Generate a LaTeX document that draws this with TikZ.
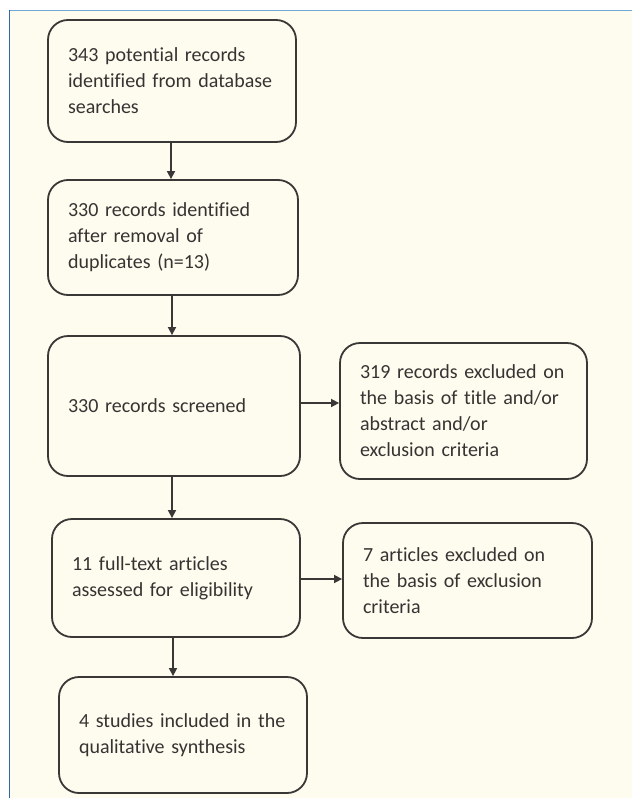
\documentclass[tikz,border=0pt]{standalone}
\usepackage{fontspec}
\setmainfont{Carlito}[Ligatures={NoCommon,NoContextual,NoRare},Contextuals={NoAlternate}]
\usetikzlibrary{arrows.meta,calc}
\definecolor{cream}{HTML}{FEFCEF}
\definecolor{edge}{HTML}{3A3836}
\definecolor{txt}{HTML}{363432}
\definecolor{topblue}{HTML}{72A8D4}
\definecolor{leftblue}{HTML}{2A68A8}
\begin{document}
\begin{tikzpicture}[x=1pt,y=-1pt,
  box/.style={draw=edge,line width=1.8pt,rounded corners=20pt,fill=cream,
    inner xsep=20pt,inner ysep=0pt,align=left,text=txt,
    font=\fontsize{20}{26}\selectfont},
  arr/.style={draw=edge,line width=1.6pt,-{Triangle[length=8pt,width=8pt]}}]
\useasboundingbox (0,0) rectangle (632,798);
\fill[white] (0,0) rectangle (632,798);
\fill[cream] (9,10) rectangle (632,798);
\draw[topblue,line width=1.2pt] (9,10.5) -- (632,10.5);
\draw[leftblue,line width=1.2pt] (9.5,10) -- (9.5,798);

\node[box,minimum width=248pt,minimum height=122pt,text width=208pt] (b1) at (172,81)
  {343 potential records\\identified from database\\searches};
\node[box,minimum width=250pt,minimum height=115pt,text width=210pt] (b2) at (173,237.5)
  {330 records identified\\after removal of\\duplicates (n=13)};
\node[box,minimum width=252pt,minimum height=140pt,text width=212pt] (b3) at (174,406)
  {330 records screened};
\node[box,minimum width=247pt,minimum height=136pt,text width=207pt] (b4) at (463.5,411)
  {319 records excluded on\\the basis of title and/or\\abstract and/or\\exclusion criteria};
\node[box,minimum width=248pt,minimum height=118pt,text width=208pt] (b5) at (176,578)
  {11 full-text articles\\assessed for eligibility};
\node[box,minimum width=249pt,minimum height=115pt,text width=209pt] (b6) at (467.5,580.5)
  {7 articles excluded on\\the basis of exclusion\\criteria};
\node[box,minimum width=248pt,minimum height=116pt,text width=208pt] (b7) at (183,735)
  {4 studies included in the\\qualitative synthesis};

\coordinate (a1) at ($(b1.south)+(-1,0)$);
\coordinate (a2) at ($(b2.south)+(-1,0)$);
\coordinate (a3) at ($(b3.south)+(-2,0)$);
\coordinate (a5) at ($(b5.south)+(-3,0)$);
\coordinate (h3) at ($(b3.east)+(0,-3)$);
\coordinate (h5) at ($(b5.east)+(0,1)$);
\draw[arr] (a1) -- (a1 |- b2.north);
\draw[arr] (a2) -- (a2 |- b3.north);
\draw[arr] (a3) -- (a3 |- b5.north);
\draw[arr] (a5) -- (a5 |- b7.north);
\draw[arr] (h3) -- (h3 -| b4.west);
\draw[arr] (h5) -- (h5 -| b6.west);
\end{tikzpicture}
\end{document}
